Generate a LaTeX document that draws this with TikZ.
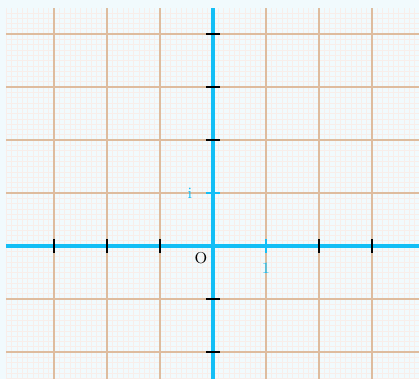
\documentclass[tikz,border=0pt]{standalone}
\definecolor{bgc}{RGB}{241,250,253}
\definecolor{finec}{RGB}{248,238,234}
\definecolor{majorc}{RGB}{222,188,158}
\definecolor{axisc}{RGB}{20,190,245}
\tikzset{
  finegrid/.style={draw=finec, line width=0.3pt},
  majorgrid/.style={draw=majorc, line width=0.6pt},
  axisline/.style={draw=axisc, line width=2pt},
  tickmark/.style={draw=black, line width=0.8pt},
  bluetick/.style={draw=axisc, line width=0.8pt},
  lbl/.style={inner sep=0pt, font=\fontsize{8.5}{10}\selectfont}
}
\begin{document}
\begin{tikzpicture}
\useasboundingbox (-4.019,-2.509) rectangle (3.887,4.642);
\fill[bgc] (-4.019,-2.509) rectangle (3.887,4.642);
\begin{scope}
\clip (-3.906,-2.509) rectangle (3.887,4.49);
\draw[finegrid] (-3.906,-2.6) grid[step=0.1] (3.95,4.49);
\draw[majorgrid] (-3.906,-2.6) grid[step=1] (3.95,4.49);
\end{scope}
\coordinate (xl) at (-3.906,0);
\coordinate (xr) at (3.887,0);
\coordinate (yb) at (0,-2.509);
\coordinate (yt) at (0,4.49);
\draw[axisline] (xl) -- (xr);
\draw[axisline] (yb) -- (yt);
\foreach \k in {-3,-2,-1,2,3} {
  \draw[tickmark] (\k,-0.13) -- (\k,0.13);
}
\foreach \k in {-2,-1,2,3,4} {
  \draw[tickmark] (-0.13,\k) -- (0.13,\k);
}
\draw[bluetick] (1,-0.13) -- (1,0.13);
\draw[bluetick] (-0.13,1) -- (0.13,1);
\node[lbl] (O) at (-0.226,-0.235) {O};
\node[lbl, text=axisc] (one) at (1.0,-0.42) {1};
\node[lbl, text=axisc] (imag) at (-0.434,1.0) {i};
\end{tikzpicture}
\end{document}
